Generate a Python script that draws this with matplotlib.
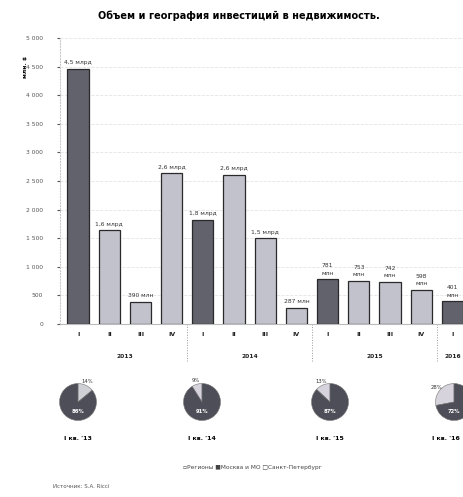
import matplotlib
matplotlib.use('Agg')
import matplotlib.pyplot as plt
import matplotlib.transforms as mtransforms
import numpy as np

plt.rcParams['font.family'] = ['DejaVu Sans']

# объем инвестиций по кварталам, млн $
quarters = ['I', 'II', 'III', 'IV', 'I', 'II', 'III', 'IV', 'I', 'II', 'III', 'IV', 'I']
volumes = [4460, 1640, 390, 2640, 1820, 2610, 1500, 287, 781, 753, 742, 598, 401]
years = ['2013', '2014', '2015', '2016']
year_quarters = [4, 4, 4, 1]

# доли по регионам в I квартале, %
pie_titles = ["I кв. '13", "I кв. '14", "I кв. '15", "I кв. '16"]
moscow_share = [86, 91, 87, 72]
spb_share = [14, 9, 13, 28]
legend_labels = ['Регионы', 'Москва и МО', 'Санкт-Петербург']

W, H = 463, 497
fig = plt.figure(figsize=(W / 100, H / 100), dpi=100)
fig.patch.set_facecolor('white')

def px(x0, y0, w, h):
    # пиксели (сверху вниз) -> доли фигуры
    return [x0 / W, 1 - (y0 + h) / H, w / W, h / H]

fig.text(239 / W, 1 - 16 / H, 'Объем и география инвестиций в недвижимость.',
         ha='center', va='center', fontsize=7, fontweight='bold')

ax = fig.add_axes(px(60, 38, 403, 286))
x = np.arange(len(volumes))
dark = '#62626d'
light = '#c2c2cd'
colors = [dark if q == 'I' else light for q in quarters]
ax.bar(x, volumes, width=0.68, color=colors, edgecolor='#2a2a2a', linewidth=0.9, zorder=3)

for xi, v in zip(x, volumes):
    if v >= 1000:
        lab = ('%.1f' % (v / 1000)).replace('.', ',') + ' млрд'
    elif xi >= 8:
        lab = '%d\nмлн' % v
    else:
        lab = '%d млн' % v
    ax.text(xi, v + 60, lab, ha='center', va='bottom', fontsize=4.3,
            color='#333333', linespacing=1.6)

ax.set_xlim(-0.58, 12.34)
ax.set_ylim(0, 5000)
ax.set_yticks(np.arange(0, 5001, 500))
ax.set_yticklabels(['{:,}'.format(v).replace(',', ' ') for v in range(0, 5001, 500)])
ax.set_xticks(x)
ax.set_xticklabels(quarters, fontweight='bold')
ax.tick_params(axis='y', labelsize=4.3, length=2, colors='#555555', pad=10)
ax.tick_params(axis='x', labelsize=4.5, length=0, pad=6, colors='#222222')
ax.grid(axis='y', color='#e4e4e4', linewidth=0.6, linestyle='--', zorder=0)
for s in ['top', 'right']:
    ax.spines[s].set_visible(False)
ax.spines['left'].set_color('#cccccc')
ax.spines['bottom'].set_color('#bbbbbb')
ax.spines['left'].set_linestyle(':')
ax.set_ylabel('млн. $', fontsize=4.3, fontweight='bold')
ax.yaxis.set_label_coords(-0.08, 0.9)

trans = mtransforms.blended_transform_factory(ax.transData, ax.transAxes)
start = 0
for yr, n in zip(years, year_quarters):
    mid = start + (n - 1) / 2
    ax.text(mid, -0.115, yr, transform=trans, ha='center', va='center',
            fontsize=4.3, fontweight='bold', color='#222222')
    if start > 0:
        ax.plot([start - 0.5, start - 0.5], [0, -0.13], transform=trans,
                color='#999999', linestyle=':', linewidth=0.7, clip_on=False)
    start += n

pie_x = [78, 202, 330, 454]
for cx, title, m, s in zip(pie_x, pie_titles, moscow_share, spb_share):
    pa = fig.add_axes(px(cx - 20, 382, 40, 40))
    if title == pie_titles[0]:
        wedges, _ = pa.pie([s, m], colors=['#cfcfd6', '#4e4e58'], startangle=90,
                           counterclock=False, radius=1.2,
                           wedgeprops=dict(edgecolor='#777777', linewidth=0.4))
    else:
        wedges, _ = pa.pie([s, m], colors=['#d6d3dc', '#4e4e58'], startangle=90,
                           counterclock=True, radius=1.2,
                           wedgeprops=dict(edgecolor='#777777', linewidth=0.4))
    pa.set_aspect('equal')
    pa.set_xlim(-1.3, 1.3)
    pa.set_ylim(-1.3, 1.3)
    pa.text(0, -0.6, '%d%%' % m, ha='center', va='center', fontsize=3.8,
            color='white', fontweight='bold')
    ang = np.deg2rad(wedges[0].theta1 + wedges[0].theta2) / 2
    pa.text(1.45 * np.cos(ang), 1.45 * np.sin(ang), '%d%%' % s, ha='center',
            va='center', fontsize=3.8, color='#333333', clip_on=False)
    fig.text(min(cx, 446) / W, 1 - 438 / H, title, ha='center', va='center',
             fontsize=4.5, fontweight='bold')

fig.text(183 / W, 1 - 468 / H,
         '▫' + legend_labels[0] + ' ■' + legend_labels[1] + ' □' + legend_labels[2],
         ha='left', va='center', fontsize=4.2, color='#444444')
fig.text(53 / W, 1 - 487 / H, 'Источник: S.A. Ricci', ha='left', va='center',
         fontsize=4, color='#555555')

fig.savefig('out.png', dpi=100, facecolor='white')
